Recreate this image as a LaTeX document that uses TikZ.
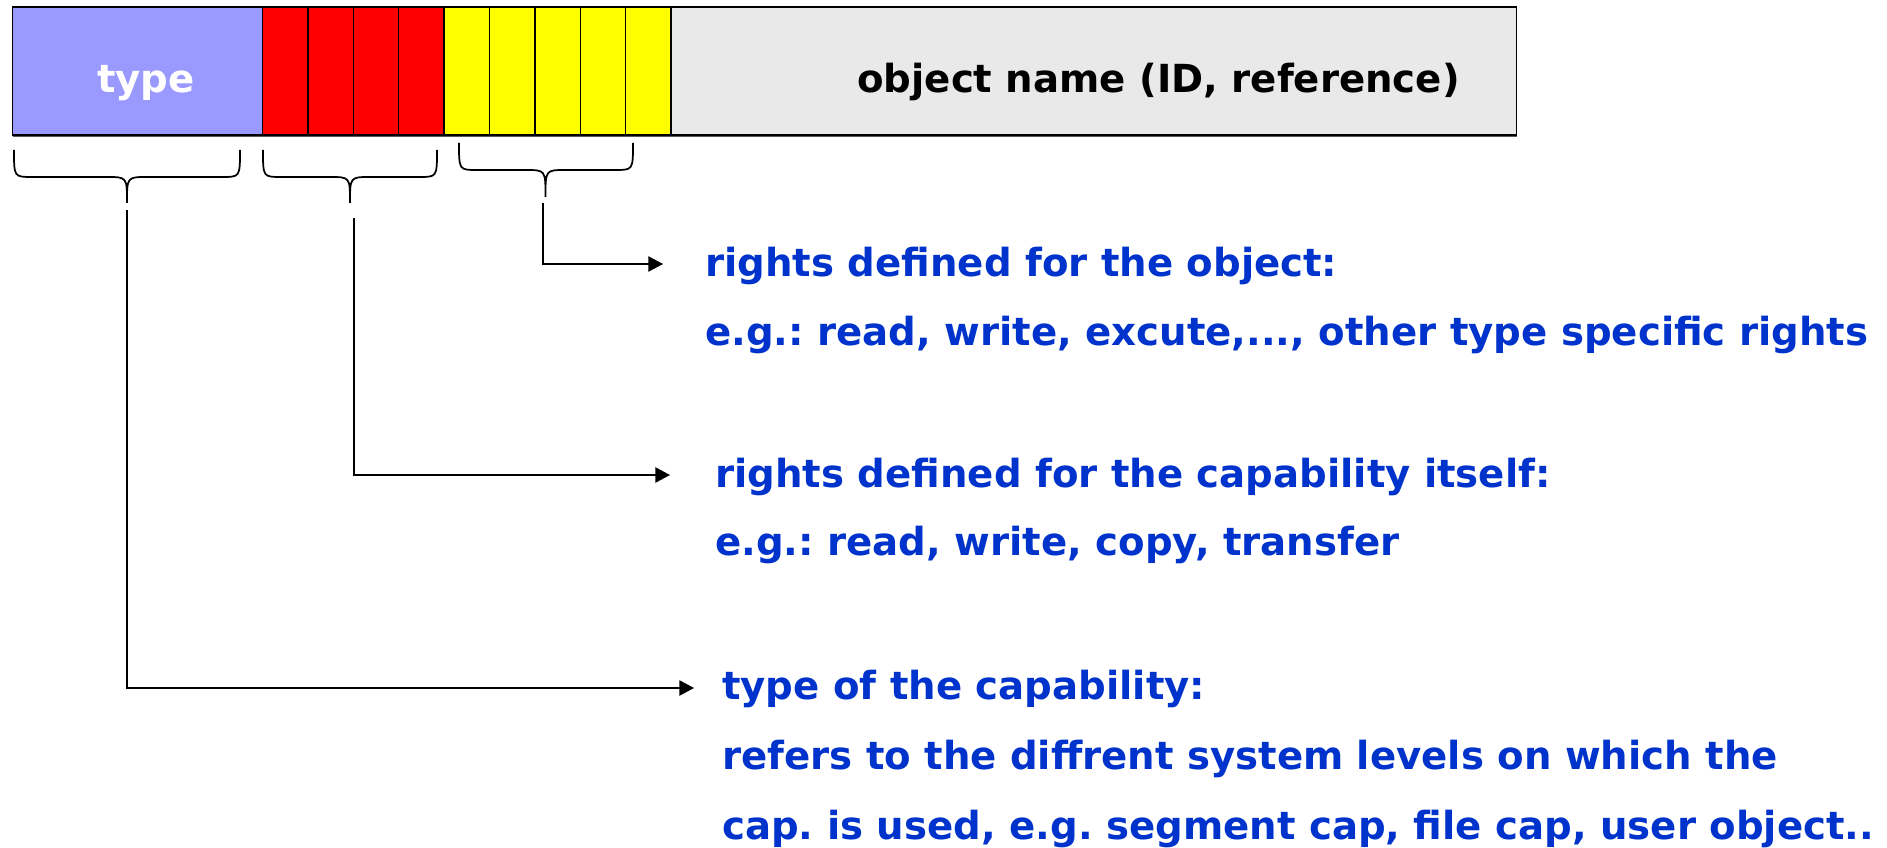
\documentclass[tikz,border=0pt]{standalone}
\usepackage{fontspec}
\setmainfont{DejaVu Sans}
\usetikzlibrary{arrows.meta}
\definecolor{typeblue}{HTML}{9999FF}
\definecolor{capred}{HTML}{FF0000}
\definecolor{objyellow}{HTML}{FFFF00}
\definecolor{namegray}{HTML}{E9E9E9}
\definecolor{txtblue}{HTML}{0033CC}
\frenchspacing
\tikzset{
  cellbox/.style={draw=black, line width=1.1pt},
  lbl/.style={font=\fontsize{29}{36}\selectfont\bfseries, text=txtblue, inner sep=0pt, anchor=base west},
  hdr/.style={font=\fontsize{29}{36}\selectfont\bfseries, inner sep=0pt, anchor=base west},
  bracestyle/.style={draw=black, line width=1.3pt},
  conn/.style={draw=black, line width=1pt, -{Triangle[length=11pt,width=11.5pt]}}
}
\newcommand{\mybrace}[6]{% xl xr ytop ymid ytip xc
  \draw[bracestyle] (#1,#3) .. controls (#1,#4) .. (#1+18,#4) -- (#6-20,#4)
    .. controls (#6,#4) .. (#6,#5) .. controls (#6,#4) .. (#6+20,#4) -- (#2-18,#4)
    .. controls (#2,#4) .. (#2,#3);}
\begin{document}
\begin{tikzpicture}[x=0.75pt,y=-0.75pt]
\useasboundingbox (0,0) rectangle (1887,848);
\fill[white] (0,0) rectangle (1887,848);
% bar
\fill[typeblue] (12.5,7) rectangle (262.5,135);
\fill[capred] (262.5,7) rectangle (444.1,135);
\fill[objyellow] (444.1,7) rectangle (671.1,135);
\fill[namegray] (671.1,7) rectangle (1516.5,135);
\draw[gray!70!black, line width=1.6pt] (12.5,136) -- (1516.5,136);
\draw[cellbox] (12.5,7) rectangle (1516.5,135);
\foreach \k in {0,...,9} {
  \draw[cellbox] (262.5+45.4*\k,7) -- (262.5+45.4*\k,135);
}
\node[hdr, text=white] (typetxt) at (97,93) {type};
\node[hdr, text=black] (objtxt) at (857,93) {object name (ID, reference)};
% braces
\mybrace{14}{240}{150}{177}{203}{127}
\mybrace{263}{437}{150}{177}{203}{350}
\mybrace{459}{633}{143}{170}{197}{545.5}
% connector coordinates
\coordinate (s1) at (127,210);
\coordinate (s2) at (354,218);
\coordinate (s3) at (543,203);
\coordinate (e1) at (694,688);
\coordinate (e2) at (670,475);
\coordinate (e3) at (663,264);
\draw[conn] (s1) |- (e1);
\draw[conn] (s2) |- (e2);
\draw[conn] (s3) |- (e3);
% texts
\node[lbl] (o1) at (705,277) {rights defined for the object:};
\node[lbl] (o2) at (705,345) {e.g.: read, write, excute,..., other type specific rights};
\node[lbl] (c1) at (715,487) {rights defined for the capability itself:};
\node[lbl] (c2) at (715,555) {e.g.: read, write, copy, transfer};
\node[lbl] (t1) at (722,699) {type of the capability:};
\node[lbl] (t2) at (722,769) {refers to the diffrent system levels on which the};
\node[lbl] (t3) at (722,839) {cap. is used, e.g. segment cap, file cap, user object..};
\end{tikzpicture}
\end{document}
